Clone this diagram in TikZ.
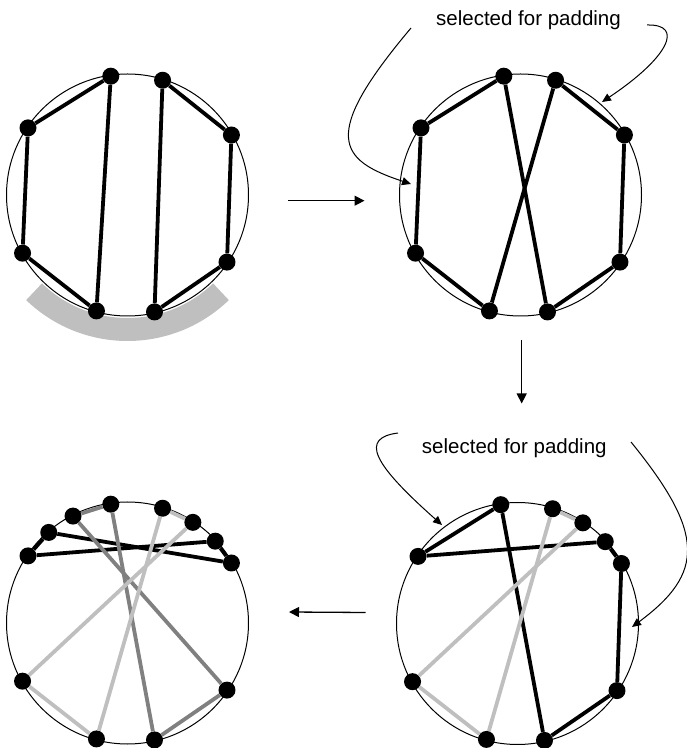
\documentclass[tikz,border=0pt]{standalone}
\usepackage{fontspec}
\setmainfont{Liberation Sans}
\usetikzlibrary{arrows.meta}

\definecolor{chordmid}{gray}{0.5}
\definecolor{chordlight}{gray}{0.75}

\begin{document}
\begin{tikzpicture}[
	x=1pt,
	y=1pt,
	ring/.style={circle, draw, line width=1pt, minimum size=242pt, inner sep=0pt},
	dot/.style={circle, fill=black, minimum size=17pt, inner sep=0pt},
	chord/.style={line width=3.8pt, draw=#1},
	chord/.default=black,
	flow/.style={-{Triangle[length=10pt,width=10pt]}, line width=1.3pt},
	callout/.style={-{Triangle[length=9pt,width=8pt]}, line width=1pt},
	note/.style={font=\fontsize{20.5}{24}\selectfont, inner sep=0pt, anchor=base}
]

\useasboundingbox (0,0) rectangle (687,748);

\def\rad{120}

% first ring
\draw[chordlight, line width=23pt] (127.5,553) ++(226:134.5) arc[start angle=226, end angle=314, radius=134.5];
\begin{scope}[shift={(127.5,553)}]
	\node[ring] (ring1) at (0,0) {};
	\foreach \n/\a in {a/98, b/73, g/146, h/30, i/209, j/326, k/255, l/283} {
		\node[dot] (p1\n) at (\a:\rad) {};
	}
\end{scope}
\foreach \u/\v in {g/a, a/k, g/i, i/k, b/l, b/h, h/j, j/l} {
	\draw[chord] (p1\u) -- (p1\v);
}

% second ring
\begin{scope}[shift={(520.5,553)}]
	\node[ring] (ring2) at (0,0) {};
	\foreach \n/\a in {a/98, b/73, g/146, h/30, i/209, j/326, k/255, l/283} {
		\node[dot] (p2\n) at (\a:\rad) {};
	}
\end{scope}
\foreach \u/\v in {g/a, a/l, g/i, i/k, b/k, b/h, h/j, j/l} {
	\draw[chord] (p2\u) -- (p2\v);
}

% third ring
\begin{scope}[shift={(127.5,125)}]
	\node[ring] (ring3) at (0,0) {};
	\foreach \n/\a in {a/98, b/73, c/117, d/57, e/131, f/43, g/146, h/30, i/209, j/326, k/255, l/283} {
		\node[dot] (p3\n) at (\a:\rad) {};
	}
\end{scope}
\foreach \u/\v in {g/e, e/h, g/f, f/h} {
	\draw[chord] (p3\u) -- (p3\v);
}
\foreach \u/\v in {c/a, c/j, a/l, l/j} {
	\draw[chord=chordmid] (p3\u) -- (p3\v);
}
\foreach \u/\v in {b/d, b/k, d/i, i/k} {
	\draw[chord=chordlight] (p3\u) -- (p3\v);
}

% fourth ring
\begin{scope}[shift={(517.5,124.5)}]
	\node[ring] (ring4) at (0,0) {};
	\foreach \n/\a in {a/98, b/73, d/57, f/43, g/146, h/30, i/209, j/326, k/255, l/283} {
		\node[dot] (p4\n) at (\a:\rad) {};
	}
\end{scope}
\foreach \u/\v in {g/a, a/l, g/f, f/h, h/j, j/l} {
	\draw[chord] (p4\u) -- (p4\v);
}
\foreach \u/\v in {b/d, b/k, d/i, i/k} {
	\draw[chord=chordlight] (p4\u) -- (p4\v);
}

\draw[flow] ([xshift=39pt,yshift=-5.7pt]ring1.east) -- ([xshift=-34.5pt,yshift=-5.7pt]ring2.west);
\draw[flow] ([xshift=1.2pt,yshift=-24pt]ring2.south) -- ([xshift=1.2pt,yshift=-87pt]ring2.south);
\draw[flow] ([xshift=-30.5pt,yshift=11pt]ring4.west) -- ([xshift=40pt,yshift=11pt]ring3.east);

\node[note] (pad1) at (528.5,722) {selected for padding};
\node[note] (pad2) at (514.3,294) {selected for padding};

\coordinate (pad1l) at (411,720);
\coordinate (pad1r) at (647,723);
\coordinate (pad2l) at (398,315);
\coordinate (pad2r) at (631,306);
\coordinate (hit1l) at (411,564);
\coordinate (hit1r) at (602,646);
\coordinate (hit2l) at (442,223);
\coordinate (hit2r) at (632,121);

\draw[callout] (pad1l) .. controls (320,612) and (338,588) .. (hit1l);
\draw[callout] (pad1r) .. controls (685,724) and (668,690) .. (hit1r);
\draw[callout] (pad2l) .. controls (360,310) and (372,285) .. (hit2l);
\draw[callout] (pad2r) .. controls (705,215) and (705,175) .. (hit2r);

\end{tikzpicture}
\end{document}
